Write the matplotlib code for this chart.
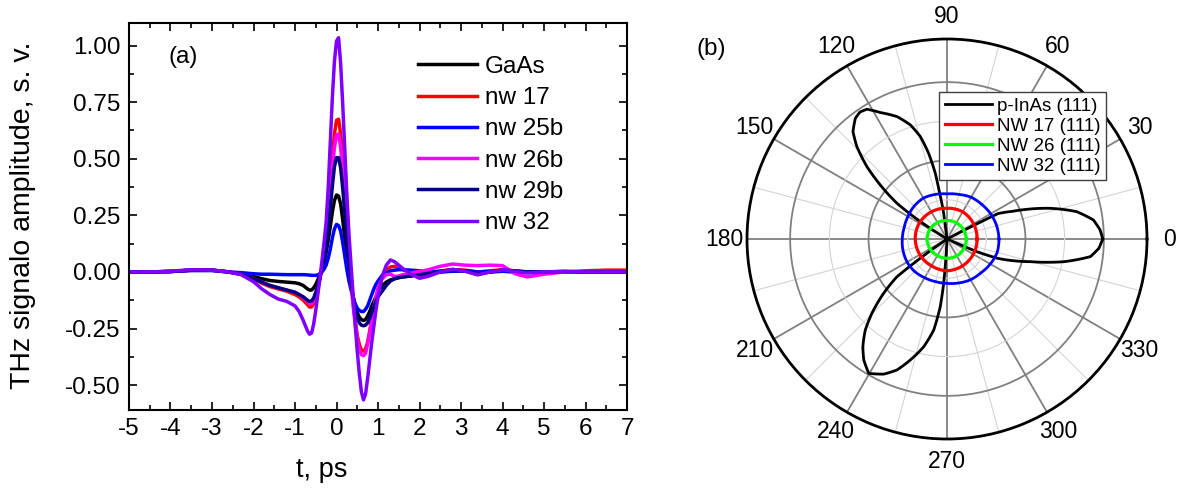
import numpy as np
import matplotlib
matplotlib.use('Agg')
import matplotlib.pyplot as plt
from matplotlib.ticker import MultipleLocator, FormatStrFormatter

plt.rcParams['font.family'] = ['Liberation Sans', 'DejaVu Sans']
plt.rcParams['axes.unicode_minus'] = False

# ---------------- panel (a) data ----------------
t_ps = [-5, -4.5, -4, -3.5, -3,
        -2.6, -2.3, -2.0, -1.8, -1.6, -1.4, -1.2, -1.0, -0.9, -0.8,
        -0.7, -0.65, -0.6, -0.55, -0.5, -0.45, -0.4, -0.35, -0.3, -0.25,
        -0.2, -0.15, -0.1, -0.05, 0, 0.05, 0.1, 0.15, 0.2, 0.25,
        0.3, 0.35, 0.4, 0.45, 0.5, 0.55, 0.6, 0.65, 0.7, 0.75,
        0.8, 0.85, 0.9, 0.95, 1.0, 1.1, 1.2, 1.3, 1.4, 1.5,
        1.6, 1.8, 2.0, 2.2, 2.5, 2.8, 3.1, 3.4, 3.7, 4.0,
        4.3, 4.6, 5.0, 5.5, 6.0, 6.5, 7.0]

gaas = [0, 0, 0.002, 0.008, 0.008,
        0.0, -0.008, -0.02, -0.03, -0.038, -0.042, -0.045, -0.048, -0.052, -0.06,
        -0.075, -0.08, -0.08, -0.07, -0.055, -0.035, -0.01, 0.015, 0.045, 0.085,
        0.14, 0.20, 0.265, 0.315, 0.34, 0.335, 0.30, 0.23, 0.15, 0.07,
        0.0, -0.06, -0.11, -0.15, -0.18, -0.20, -0.21, -0.215, -0.21, -0.195,
        -0.175, -0.15, -0.13, -0.11, -0.09, -0.06, -0.045, -0.035, -0.03, -0.025,
        -0.022, -0.017, -0.012, -0.008, 0.0, 0.005, 0.004, -0.005, 0.0, 0.003,
        0.002, 0.0, 0.0, 0.0, 0.0, 0.0, 0.0]

nw17 = [0, 0, 0.002, 0.008, 0.008,
        0.0, -0.01, -0.03, -0.05, -0.065, -0.075, -0.085, -0.10, -0.11, -0.125,
        -0.145, -0.155, -0.155, -0.14, -0.11, -0.07, -0.03, 0.02, 0.07, 0.14,
        0.24, 0.37, 0.50, 0.61, 0.67, 0.675, 0.61, 0.49, 0.35, 0.21,
        0.08, -0.03, -0.13, -0.21, -0.28, -0.32, -0.345, -0.35, -0.34, -0.31,
        -0.26, -0.21, -0.16, -0.12, -0.08, -0.02, 0.01, 0.022, 0.025, 0.02,
        0.01, -0.005, -0.01, -0.005, 0.005, 0.01, 0.008, 0.0, 0.005, 0.01,
        0.005, 0.0, -0.003, 0.0, 0.005, 0.008, 0.008]

nw25b = [0, 0, 0.002, 0.006, 0.006,
         0.0, -0.003, -0.008, -0.01, -0.01, -0.011, -0.012, -0.012, -0.012, -0.012,
         -0.013, -0.014, -0.015, -0.015, -0.015, -0.013, -0.008, 0.0, 0.012, 0.03,
         0.06, 0.10, 0.15, 0.19, 0.21, 0.205, 0.18, 0.13, 0.07, 0.01,
         -0.04, -0.08, -0.11, -0.14, -0.16, -0.17, -0.175, -0.175, -0.165, -0.15,
         -0.125, -0.10, -0.075, -0.055, -0.04, -0.015, -0.005, 0.005, 0.008, 0.01,
         0.01, 0.008, 0.005, 0.003, 0.0, 0.003, 0.005, 0.0, 0.002, 0.003,
         0.0, 0.0, 0.0, 0.0, 0.0, 0.0, 0.0]

nw26b = [0, 0, 0.002, 0.008, 0.008,
         0.0, -0.01, -0.03, -0.045, -0.06, -0.07, -0.08, -0.09, -0.10, -0.115,
         -0.13, -0.14, -0.14, -0.125, -0.10, -0.065, -0.03, 0.015, 0.06, 0.13,
         0.22, 0.33, 0.45, 0.55, 0.605, 0.61, 0.55, 0.44, 0.31, 0.18,
         0.06, -0.05, -0.15, -0.23, -0.30, -0.345, -0.365, -0.37, -0.36, -0.32,
         -0.27, -0.21, -0.16, -0.11, -0.07, -0.03, -0.012, -0.01, -0.02, -0.018,
         -0.012, -0.005, 0.003, 0.009, 0.025, 0.035, 0.03, 0.028, 0.03, 0.028,
         -0.008, -0.022, -0.01, 0.0, 0.0, 0.0, 0.0]

nw29b = [0, 0, 0.002, 0.008, 0.008,
         0.0, -0.01, -0.03, -0.045, -0.06, -0.07, -0.08, -0.09, -0.10, -0.11,
         -0.125, -0.13, -0.128, -0.115, -0.09, -0.06, -0.025, 0.015, 0.055, 0.11,
         0.19, 0.28, 0.38, 0.465, 0.505, 0.505, 0.46, 0.37, 0.26, 0.15,
         0.05, -0.04, -0.11, -0.165, -0.20, -0.225, -0.235, -0.238, -0.235, -0.225,
         -0.205, -0.18, -0.155, -0.13, -0.11, -0.085, -0.06, -0.04, -0.03, -0.025,
         -0.022, -0.018, -0.012, -0.008, 0.003, 0.01, 0.005, -0.01, 0.0, 0.008,
         0.005, 0.0, 0.0, 0.002, 0.0, 0.0, 0.0]

nw32 = [0, 0, 0.003, 0.01, 0.008,
        0.0, -0.012, -0.043, -0.075, -0.10, -0.12, -0.13, -0.15, -0.175, -0.215,
        -0.26, -0.275, -0.27, -0.23, -0.17, -0.10, -0.03, 0.05, 0.13, 0.22,
        0.37, 0.57, 0.77, 0.93, 1.02, 1.035, 0.92, 0.74, 0.54, 0.34,
        0.17, 0.03, -0.10, -0.23, -0.35, -0.45, -0.53, -0.565, -0.54, -0.47,
        -0.39, -0.31, -0.24, -0.17, -0.11, -0.02, 0.03, 0.053, 0.045, 0.03,
        0.015, -0.01, -0.028, -0.02, 0.0, 0.012, 0.003, -0.013, 0.0, 0.009,
        0.003, -0.005, 0.0, 0.003, 0.0, 0.0, 0.0]

series_labels = ['GaAs', 'nw 17', 'nw 25b', 'nw 26b', 'nw 29b', 'nw 32']
series_values = [gaas, nw17, nw25b, nw26b, nw29b, nw32]
series_colors = ['#000000', '#FF0000', '#0000FF', '#FF00FF', '#000080', '#8000FF']

x_ticks = list(range(-5, 8))
y_ticks = [-0.50, -0.25, 0.00, 0.25, 0.50, 0.75, 1.00]

# ---------------- panel (b) data ----------------
pinas_deg = [0, 3.4, 7.4, 11.9, 16.6, 20.4, 23, 26.5, 27.0, 27.3,
             97, 97.4, 99.1, 100.1, 102.1, 104.6, 107.8, 112.2, 117.8, 121.7,
             124.5, 127.2, 131.2, 134.3, 137.9, 141.0, 144.5, 146.2, 147.5, 148,
             214.5, 215, 216.1, 217.0, 220.6, 224.7, 228.1, 232.0, 235.5, 239.8,
             244.9, 249.1, 253.1, 257.8, 261.7, 264.3, 265.7, 266.5, 267,
             336.5, 337, 338.4, 339, 344.8, 349, 353, 356.5, 360]
pinas_r = [0.794, 0.782, 0.753, 0.676, 0.548, 0.434, 0.36, 0.29, 0.12, 0.0,
           0.0, 0.132, 0.236, 0.340, 0.447, 0.540, 0.611, 0.674, 0.729, 0.778,
           0.785, 0.773, 0.728, 0.658, 0.550, 0.438, 0.313, 0.205, 0.10, 0.0,
           0.0, 0.083, 0.210, 0.319, 0.426, 0.539, 0.624, 0.697, 0.749, 0.793,
           0.761, 0.715, 0.645, 0.562, 0.469, 0.347, 0.227, 0.107, 0.0,
           0.0, 0.165, 0.236, 0.273, 0.441, 0.607, 0.737, 0.776, 0.794]

ring_deg = [0, 30, 60, 90, 120, 150, 180, 210, 240, 270, 300, 330, 360]
nw17_r = [0.153, 0.156, 0.160, 0.157, 0.160, 0.163, 0.162, 0.160, 0.158, 0.162, 0.158, 0.155, 0.153]
nw26_r = [0.098, 0.097, 0.095, 0.094, 0.097, 0.100, 0.102, 0.100, 0.098, 0.098, 0.099, 0.099, 0.098]

nw32_deg = [0, 15, 30, 45, 60, 75, 90, 105, 120, 135, 150, 165, 180,
            195, 210, 225, 240, 255, 270, 285, 300, 315, 330, 345, 360]
nw32_r = [0.265, 0.262, 0.257, 0.250, 0.246, 0.235, 0.230, 0.235, 0.241, 0.237, 0.230, 0.226, 0.228,
          0.232, 0.235, 0.234, 0.228, 0.225, 0.226, 0.232, 0.240, 0.244, 0.255, 0.265, 0.265]

polar_labels = ['p-InAs (111)', 'NW 17 (111)', 'NW 26 (111)', 'NW 32 (111)']
polar_colors = ['#000000', '#FF0000', '#00FF00', '#0000FF']

# ---------------- figure ----------------
W, H = 1177, 501
fig = plt.figure(figsize=(W / 100, H / 100), dpi=100)

ax = fig.add_axes([129 / W, 1 - 410 / H, 498 / W, 387 / H])
for lab, vals, col in zip(series_labels, series_values, series_colors):
    ax.plot(t_ps, vals, color=col, lw=2.5, label=lab, solid_joinstyle='round')
ax.set_xlim(-5, 7)
ax.set_ylim(-0.61, 1.10)
ax.set_xticks(x_ticks)
ax.set_yticks(y_ticks)
ax.xaxis.set_minor_locator(MultipleLocator(0.5))
ax.yaxis.set_minor_locator(MultipleLocator(0.125))
ax.yaxis.set_major_formatter(FormatStrFormatter('%.2f'))
ax.tick_params(which='both', direction='in', top=True, right=True, width=1.2, labelsize=17.5)
ax.tick_params(which='major', length=6, pad=6)
ax.tick_params(which='minor', length=3.5)
for s in ax.spines.values():
    s.set_linewidth(1.5)
ax.text(0.108, 0.912, '(a)', transform=ax.transAxes, fontsize=17.5, ha='center', va='center')
fig.text(322 / W, 1 - 470 / H, 't, ps', fontsize=19.5, ha='center', va='center')
fig.text(23 / W, 1 - 215 / H, 'THz signalo amplitude, s. v.', fontsize=20.5,
         rotation=90, ha='center', va='center')
ax.legend(loc='upper left', bbox_to_anchor=(0.580, 0.915), frameon=False, fontsize=17.5,
          handlelength=2.45, handletextpad=0.3, labelspacing=0.38, borderpad=0, borderaxespad=0)

# polar
pax = fig.add_axes([747 / W, 1 - 439 / H, 400 / W, 400 / H], projection='polar')
lines = []
lines += pax.plot(np.deg2rad(pinas_deg), pinas_r, color=polar_colors[0], lw=2.0, label=polar_labels[0])
lines += pax.plot(np.deg2rad(ring_deg), nw17_r, color=polar_colors[1], lw=2.3, label=polar_labels[1])
lines += pax.plot(np.deg2rad(ring_deg), nw26_r, color=polar_colors[2], lw=2.3, label=polar_labels[2])
lines += pax.plot(np.deg2rad(nw32_deg), nw32_r, color=polar_colors[3], lw=2.0, label=polar_labels[3])
for ln in lines:
    ln.get_path()._interpolation_steps = 40
pax.set_ylim(0, 1.02)
theta_major = list(range(0, 360, 30))
pax.set_xticks(np.deg2rad(theta_major))
pax.set_xticklabels([str(a) for a in theta_major])
pax.set_xticks(np.deg2rad(np.arange(15, 360, 30)), minor=True)
pax.set_yticks([0.4, 0.8])
pax.set_yticklabels([])
pax.set_yticks([0.2, 0.6], minor=True)
pax.xaxis.grid(True, which='major', color='#808080', lw=1.3)
pax.yaxis.grid(True, which='major', color='#808080', lw=1.3)
pax.xaxis.grid(True, which='minor', color='#d4d4d4', lw=0.8)
pax.yaxis.grid(True, which='minor', color='#d4d4d4', lw=0.8)
pax.tick_params(axis='x', which='major', labelsize=16.5, pad=9, direction='in', length=0)
pax.tick_params(axis='x', which='minor', direction='in', length=6, width=1.2)
pax.tick_params(axis='y', which='both', length=0)
pax.spines['polar'].set_linewidth(2.0)
pax.set_axisbelow(True)
leg = pax.legend(loc='upper left', bbox_to_anchor=(939 / W, 1 - 92 / H), bbox_transform=fig.transFigure,
                 fontsize=13.5, handlelength=2.5, handletextpad=0.3, labelspacing=0.15,
                 borderpad=0.3, borderaxespad=0, fancybox=False, edgecolor='#404040', framealpha=1)
leg.get_frame().set_linewidth(1.0)
fig.text(711 / W, 1 - 49 / H, '(b)', fontsize=17.5, ha='center', va='center')

fig.savefig('out.png', dpi=100)
